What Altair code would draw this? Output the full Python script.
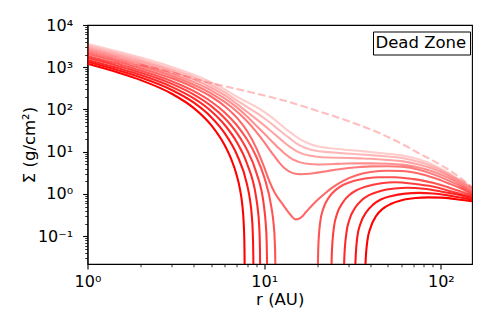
import altair as alt
import pandas as pd

# ---------------- axis ticks ----------------
X_DOMAIN = [1, 150]
Y_DOMAIN = [0.022, 10000]
X_TICKS = [1, 2, 3, 4, 5, 6, 7, 8, 9, 10, 20, 30, 40, 50, 60, 70, 80, 90, 100]
Y_TICKS = [0.03, 0.04, 0.05, 0.06, 0.07, 0.08, 0.09, 0.1,
           0.2, 0.3, 0.4, 0.5, 0.6, 0.7, 0.8, 0.9, 1,
           2, 3, 4, 5, 6, 7, 8, 9, 10,
           20, 30, 40, 50, 60, 70, 80, 90, 100,
           200, 300, 400, 500, 600, 700, 800, 900, 1000,
           2000, 3000, 4000, 5000, 6000, 7000, 8000, 9000, 10000]
POW_LABELS = {-1: "10⁻¹", 0: "10⁰", 1: "10¹", 2: "10²", 3: "10³", 4: "10⁴"}

# ---------------- data ----------------
# dashed initial profile
DZ_R = [2, 3, 4.3, 6, 8.3, 12, 20.6, 30.4, 46.9, 60, 72.4, 90, 110, 130, 150]
DZ_S = [1150, 760, 490, 355, 260, 178, 89, 52, 25.5, 15.5, 10, 6.2, 3.8, 2.35, 1.42]

# light (no gap) curves
LIGHT_R = [1, 1.5, 2, 3, 4, 5, 6, 7, 8, 9, 10, 11, 12, 13, 14, 15, 16, 18, 20, 23,
           26, 30, 35, 40, 50, 60, 75, 90, 110, 130, 150]
L0_S = [3589, 2334, 1690, 1019, 665, 444, 297, 200, 150, 115, 88, 66, 49, 37, 29,
        23.5, 19.5, 15.5, 13.5, 12.3, 11.6, 11.0, 10.4, 9.9, 9.0, 8.2, 6.6, 4.9, 3.2, 2.1, 1.44]
L1_S = [3213, 2085, 1507, 902, 583, 384, 253, 165, 115, 84, 62, 46, 34, 26, 20.5,
        16.5, 14.0, 11.5, 10.4, 9.8, 9.4, 9.0, 8.6, 8.3, 7.7, 7.1, 5.8, 4.45, 2.95, 1.98, 1.34]
L2_S = [2884, 1868, 1346, 805, 510, 332, 215, 136, 88, 60, 42, 30, 22, 16.5, 13.0,
        10.8, 9.4, 8.1, 7.6, 7.3, 7.2, 7.1, 6.95, 6.8, 6.4, 6.0, 5.0, 3.95, 2.7, 1.83, 1.24]
L3_S = [2583, 1669, 1198, 705, 444, 284, 180, 112, 68, 42, 27, 18, 12.5, 9.2, 7.3,
        6.2, 5.6, 5.1, 5.0, 5.05, 5.15, 5.25, 5.3, 5.3, 5.2, 4.95, 4.25, 3.4, 2.4, 1.67, 1.15]
L4_S = [2317, 1493, 1068, 621, 385, 241, 149, 90, 52.8, 30, 16.9, 9.7, 5.96, 4.1, 3.33,
        3.0, 2.94, 3.0, 3.2, 3.5, 3.8, 4.1, 4.35, 4.5, 4.55, 4.4, 3.75, 2.95, 2.1, 1.5, 1.06]

# curve with the dip
DIP_R = [1, 1.5, 2, 3, 4, 5, 6, 7, 8, 9, 10, 10.7, 11.5, 12.8, 14, 15.1, 16.2, 17.3, 19, 20.6,
         22.5, 24.5, 28, 33, 40, 50, 60, 75, 90, 110, 130, 150]
DIP_S = [2078, 1334, 950, 546, 332, 203, 118, 64, 31, 12.5, 4.3, 2.0, 1.05, 0.55, 0.33, 0.25,
         0.28, 0.38, 0.58, 0.8, 1.1, 1.45, 2.05, 2.75, 3.3, 3.55, 3.5, 3.05, 2.45, 1.8, 1.35, 0.98]

# gapped curves: inner pieces
D4_IN_R = [1, 1.5, 2, 3, 4, 5, 6, 7, 8, 9, 10, 11, 11.3, 11.48, 11.56, 11.6]
D4_IN_S = [1861, 1187, 839, 468, 271.7, 154.7, 84, 42.4, 19.4, 7.8, 2.52, 0.47, 0.2, 0.075, 0.025, 0.005]
D3_IN_R = [1, 1.5, 2, 3, 4, 5, 6, 7, 8, 9, 10, 10.2, 10.32, 10.38, 10.4]
D3_IN_S = [1670, 1060, 742, 404, 225.6, 121.7, 61.2, 27.9, 10.95, 3.34, 0.47, 0.2, 0.08, 0.019, 0.005]
D2_IN_R = [1, 1.5, 2, 3, 4, 5, 6, 7, 8, 9, 9.2, 9.35, 9.45, 9.49, 9.5]
D2_IN_S = [1494, 942, 653, 344, 183, 92.4, 42.3, 16.8, 5.2, 0.84, 0.43, 0.2, 0.065, 0.013, 0.005]
D1_IN_R = [1, 1.5, 2, 3, 4, 5, 6, 7, 8, 8.3, 8.5, 8.62, 8.68, 8.7]
D1_IN_S = [1341, 837, 572, 290, 145, 66.7, 26.8, 8.6, 1.68, 0.75, 0.32, 0.117, 0.03, 0.005]
D0_IN_R = [1, 1.5, 2, 3, 4, 5, 6, 6.5, 7, 7.3, 7.5, 7.65, 7.72, 7.75, 7.76]
D0_IN_S = [1202, 741, 496, 236, 107.5, 43, 13.8, 6.75, 2.71, 1.27, 0.6, 0.22, 0.077, 0.019, 0.005]

# gapped curves: outer pieces
D4_OUT_R = [20.0, 20.22, 20.76, 21.6, 23.2, 25.4, 28.1, 32.4, 38, 45, 55, 70, 90, 115, 150]
D4_OUT_S = [0.005, 0.05, 0.22, 0.45, 0.82, 1.25, 1.65, 2.05, 2.35, 2.5, 2.5, 2.25, 1.85, 1.35, 0.92]
D3_OUT_R = [23.9, 24.15, 24.8, 25.8, 27.8, 30.4, 33.6, 38.7, 46, 55, 70, 90, 115, 150]
D3_OUT_S = [0.005, 0.04, 0.16, 0.33, 0.62, 0.95, 1.25, 1.55, 1.8, 1.9, 1.75, 1.5, 1.15, 0.85]
D2_OUT_R = [28.1, 28.4, 29.2, 30.4, 32.7, 35.7, 39.5, 45.5, 55, 65, 80, 100, 125, 150]
D2_OUT_S = [0.005, 0.03, 0.12, 0.25, 0.47, 0.72, 0.95, 1.18, 1.35, 1.4, 1.33, 1.15, 0.96, 0.79]
D1_OUT_R = [32.5, 32.85, 33.7, 35.1, 37.8, 41.3, 45.7, 52.7, 63, 75, 90, 115, 150]
D1_OUT_S = [0.005, 0.025, 0.1, 0.2, 0.37, 0.56, 0.74, 0.9, 1.02, 1.06, 1.03, 0.9, 0.73]
D0_OUT_R = [37.0, 37.4, 38.4, 40, 43, 47, 52, 60, 72, 85, 100, 120, 150]
D0_OUT_S = [0.005, 0.02, 0.08, 0.16, 0.3, 0.45, 0.58, 0.71, 0.8, 0.83, 0.82, 0.76, 0.67]

# draw order lightest -> darkest, with opacity
CURVES = [
    (0.20, [(LIGHT_R, L0_S)]),
    (0.28, [(LIGHT_R, L1_S)]),
    (0.36, [(LIGHT_R, L2_S)]),
    (0.44, [(LIGHT_R, L3_S)]),
    (0.52, [(LIGHT_R, L4_S)]),
    (0.60, [(DIP_R, DIP_S)]),
    (0.68, [(D4_IN_R, D4_IN_S), (D4_OUT_R, D4_OUT_S)]),
    (0.76, [(D3_IN_R, D3_IN_S), (D3_OUT_R, D3_OUT_S)]),
    (0.84, [(D2_IN_R, D2_IN_S), (D2_OUT_R, D2_OUT_S)]),
    (0.92, [(D1_IN_R, D1_IN_S), (D1_OUT_R, D1_OUT_S)]),
    (1.00, [(D0_IN_R, D0_IN_S), (D0_OUT_R, D0_OUT_S)]),
]
DASH_ALPHA = 0.25

# ---------------- axes ----------------
E = "round(log(datum.value)/LN10)"
MAJOR = f"abs(log(datum.value)/LN10 - {E}) < 0.001"
inner = "''"
for p in sorted(POW_LABELS, reverse=True):
    inner = f"({E} == {p} ? '{POW_LABELS[p]}' : {inner})"
LABEL_EXPR = f"({MAJOR}) ? {inner} : ''"

TICK_SIZE = {"condition": {"test": MAJOR, "value": 4.9}, "value": 2.8}
TICK_WIDTH = {"condition": {"test": MAJOR, "value": 1.1}, "value": 0.8}

x_axis = alt.Axis(values=X_TICKS, labelExpr=LABEL_EXPR, tickSize=TICK_SIZE,
                  tickWidth=TICK_WIDTH, labelPadding=4.9, labelOverlap=False,
                  labelFlush=False, title="r (AU)", titleX=192.25, titleY=40.5,
                  titleBaseline="alphabetic", titleAlign="center")
y_axis = alt.Axis(values=Y_TICKS, labelExpr=LABEL_EXPR, tickSize=TICK_SIZE,
                  tickWidth=TICK_WIDTH, labelPadding=10, labelOverlap=False,
                  labelFlush=False, title="Σ (g/cm²)", titleX=-53, titleY=119.5,
                  titleAngle=270, titleBaseline="alphabetic", titleAlign="center")

X_ENC = alt.X("r:Q", scale=alt.Scale(type="log", domain=X_DOMAIN), axis=x_axis)
Y_ENC = alt.Y("s:Q", scale=alt.Scale(type="log", domain=Y_DOMAIN), axis=y_axis)

layers = []
dz_df = pd.DataFrame({"r": DZ_R, "s": DZ_S, "label": ["Dead Zone"] * len(DZ_R)})
layers.append(
    alt.Chart(dz_df).mark_line(clip=True, color="red", opacity=DASH_ALPHA,
                               strokeWidth=2.08, interpolate="monotone").encode(
        x=X_ENC, y=Y_ENC,
        strokeDash=alt.StrokeDash(
            "label:N",
            scale=alt.Scale(domain=["Dead Zone"], range=[[7.7, 3.3]]),
            legend=alt.Legend(title=None, orient="none", legendX=285.5, legendY=6.5,
                              strokeColor="black", fillColor="white", padding=3,
                              cornerRadius=0, symbolOpacity=0, symbolSize=0,
                              symbolStrokeWidth=0, symbolType="circle",
                              labelOffset={"expr": "-17"},
                              labelFont="DejaVu Sans", labelFontSize=16.5,
                              labelColor="black"),
        ),
    )
)

for k, (alpha, pieces) in enumerate(CURVES):
    rows = []
    for j, (rr, ss) in enumerate(pieces):
        for a, b in zip(rr, ss):
            rows.append({"r": a, "s": b, "piece": f"c{k}p{j}"})
    df = pd.DataFrame(rows)
    layers.append(
        alt.Chart(df).mark_line(clip=True, color="red", opacity=alpha, strokeWidth=2.08,
                                interpolate="monotone").encode(
            x=X_ENC, y=Y_ENC, detail="piece:N")
    )

chart = alt.layer(*layers).properties(
    width=384.5, height=239,
    autosize=alt.AutoSizeParams(type="none"),
    padding={"left": 79.5, "top": 17, "right": 11, "bottom": 55},
).configure_view(stroke="black", strokeWidth=1.1).configure_axis(
    labelFont="DejaVu Sans", titleFont="DejaVu Sans", labelFontSize=16,
    titleFontSize=16.5, titleFontWeight="normal", labelColor="black",
    titleColor="black", domainColor="black", domainWidth=1.1, tickColor="black",
    grid=False,
)

chart.save("out.html", embed_options={"renderer": "svg", "actions": False})
